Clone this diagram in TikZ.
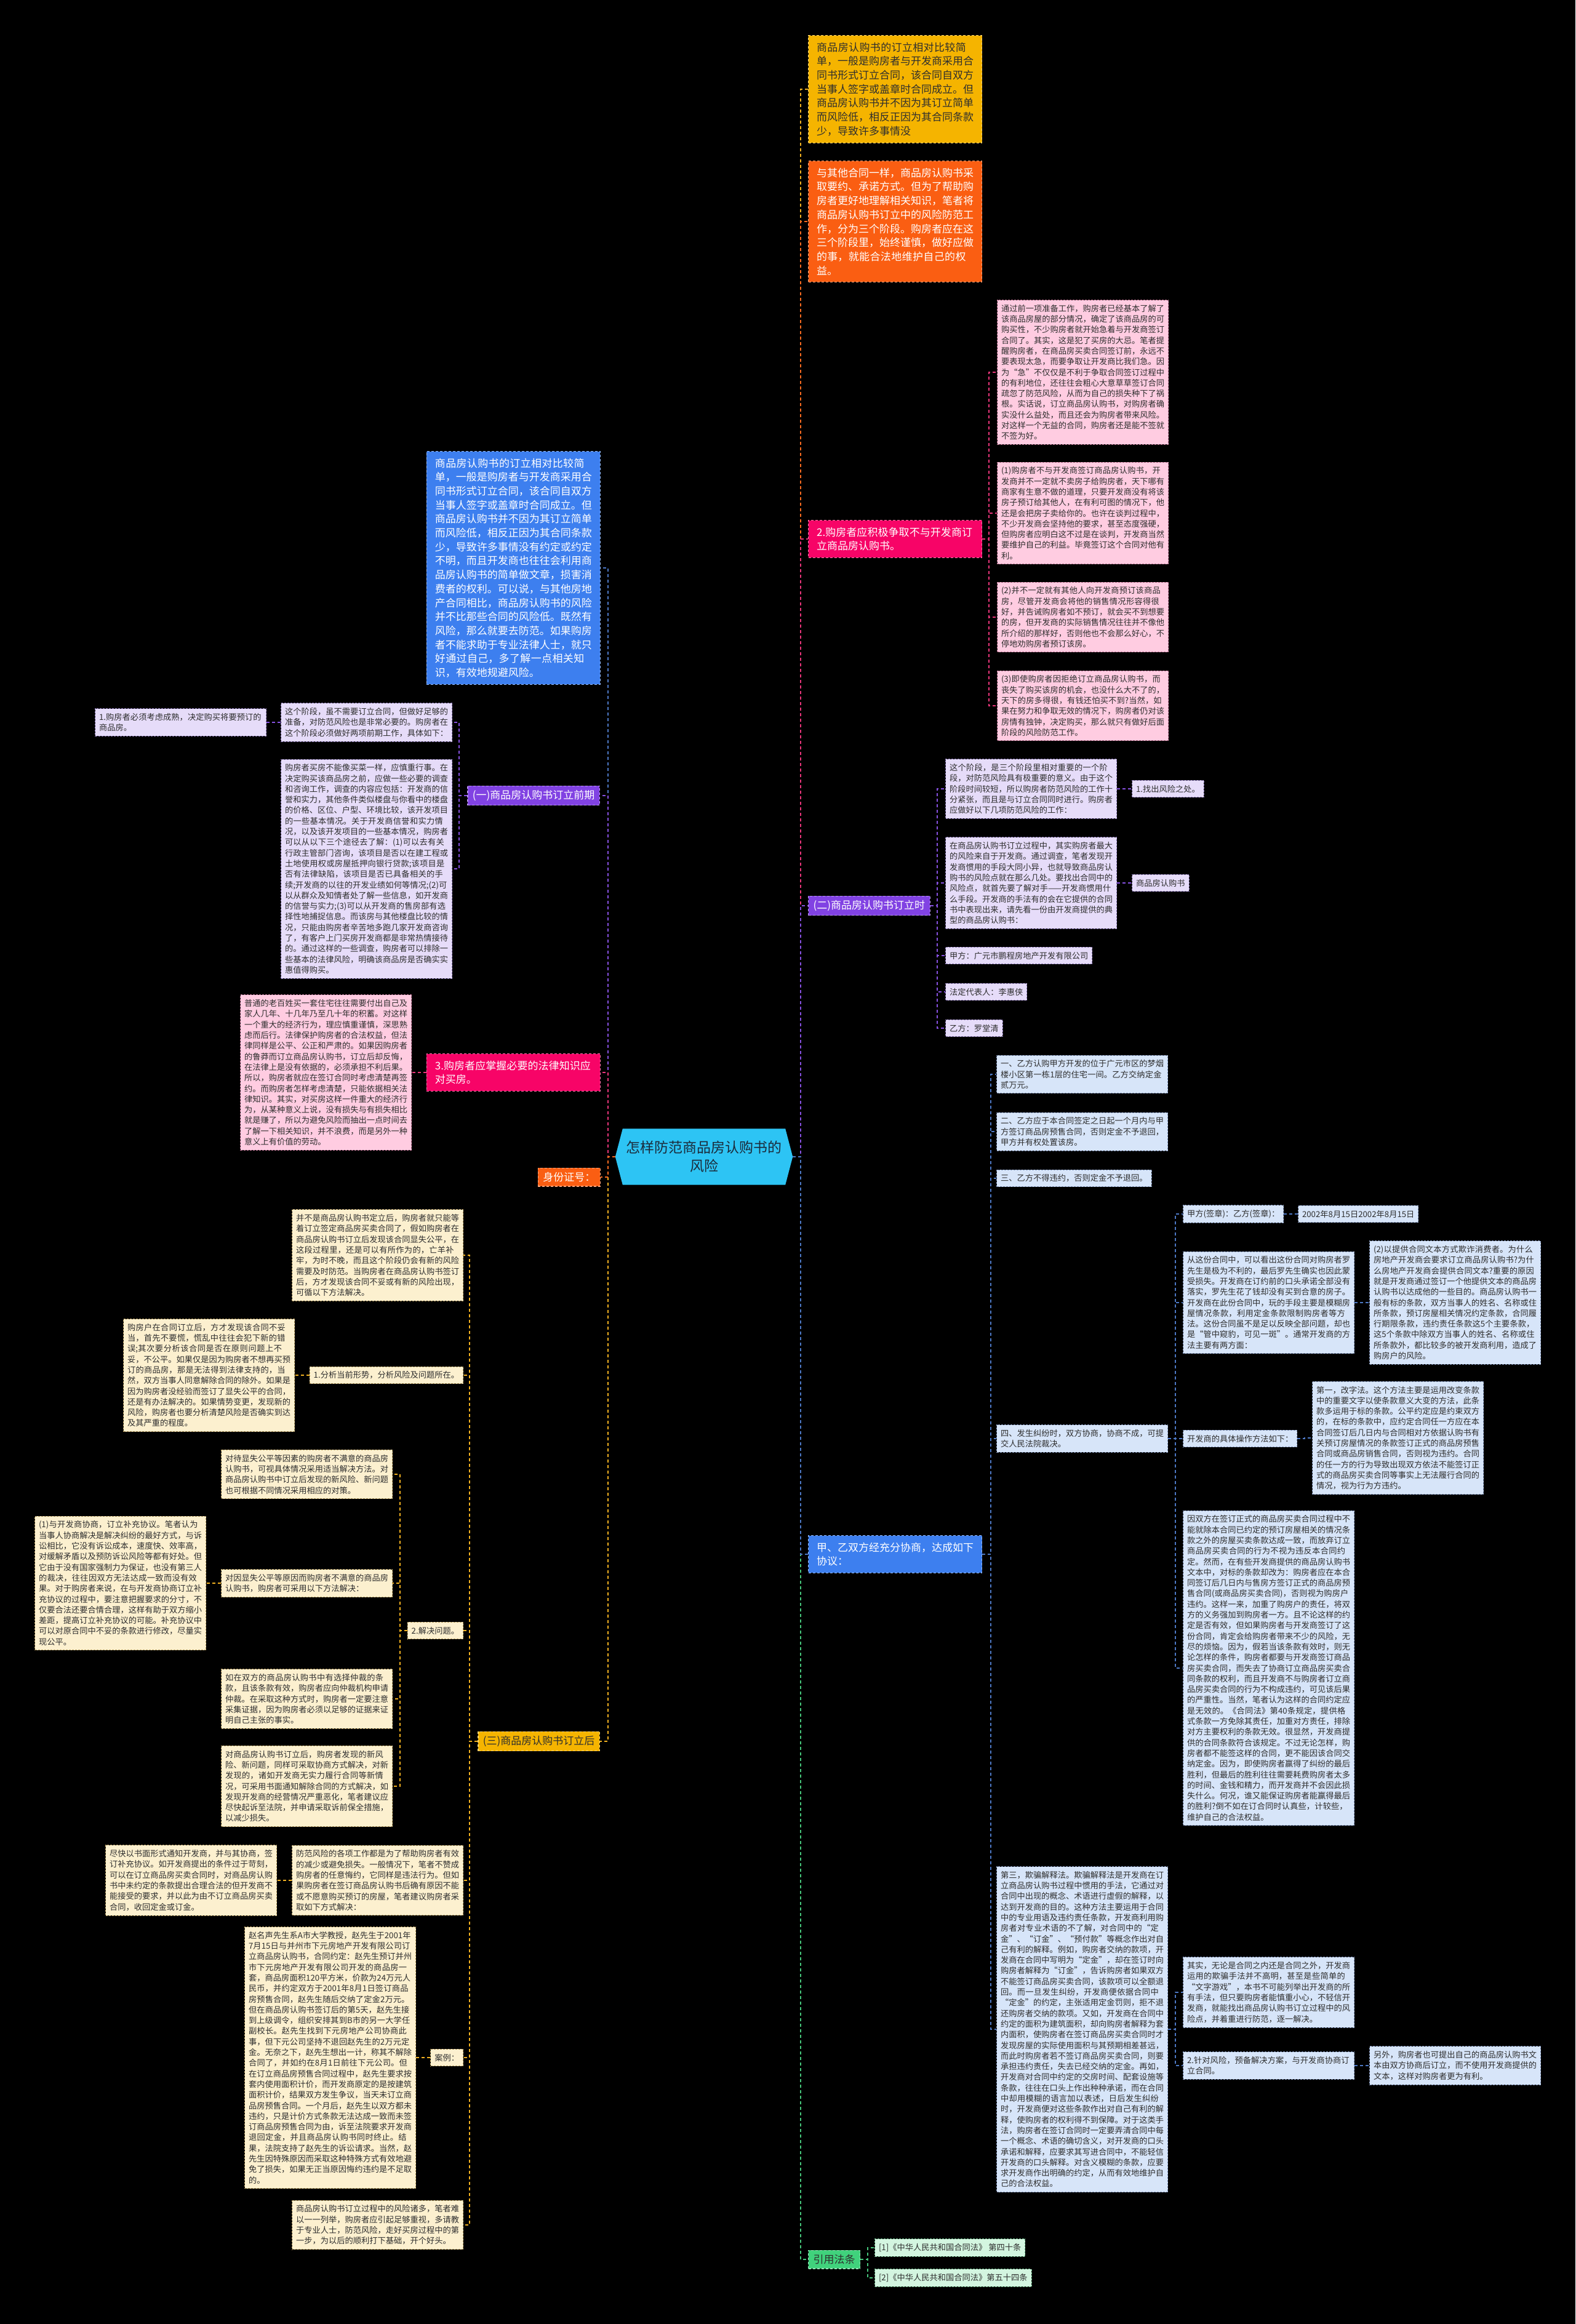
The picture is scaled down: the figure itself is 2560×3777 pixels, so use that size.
\documentclass[tikz,border=0pt]{standalone}
\usepackage{fontspec}
\setmainfont{Noto Sans CJK SC}
\XeTeXlinebreaklocale "zh"
\XeTeXlinebreakskip = 0pt plus 1pt
\pgfdeclarelayer{bgl}
\pgfdeclarelayer{shp}
\pgfsetlayers{bgl,shp,main}
\definecolor{ymain}{HTML}{F5B400}
\definecolor{omain}{HTML}{FA5E12}
\definecolor{pmain}{HTML}{F70467}
\definecolor{vmain}{HTML}{8142E3}
\definecolor{bmain}{HTML}{3D7FEF}
\definecolor{gmain}{HTML}{40D27C}
\definecolor{cyanroot}{HTML}{2DC4F4}
\definecolor{pfill}{HTML}{FFCCE1}
\definecolor{vfill}{HTML}{E6DCF9}
\definecolor{bfill}{HTML}{D7E5F9}
\definecolor{yfill}{HTML}{FCF0CF}
\definecolor{gfill}{HTML}{D3F5E0}
\definecolor{pbd}{HTML}{B8708F}
\definecolor{vbd}{HTML}{8A78B5}
\definecolor{bbd}{HTML}{7C8FB5}
\definecolor{ybd}{HTML}{B39A5E}
\definecolor{gbd}{HTML}{6FB88A}
\definecolor{ycon}{HTML}{F0B020}
\definecolor{ocon}{HTML}{F86A20}
\definecolor{pcon}{HTML}{E8357A}
\definecolor{vcon}{HTML}{8650E0}
\definecolor{bcon}{HTML}{4D78C5}
\definecolor{gcon}{HTML}{45C57A}
\definecolor{txt}{HTML}{2E2E2E}
\definecolor{rtxt}{HTML}{1B2B3B}
\newcommand\lffont{\fontsize{13.25pt}{17.3pt}\selectfont}
\newcommand\mnfont{\fontsize{17pt}{22.7pt}\selectfont}
\newcommand\rtfont{\fontsize{23pt}{30pt}\selectfont}
\tikzset{
  conn/.style={draw=#1, line width=2pt, dash pattern=on 5pt off 4pt},
  lbase/.style={draw=#1, line width=1pt, dash pattern=on 3pt off 2pt, align=left, inner xsep=6.5pt, inner ysep=7.5pt, font=\lffont, text=txt},
  leafw/.style={lbase=#1, text width=265pt},
  pleaf/.style={leafw=pbd, fill=pfill},
  vleaf/.style={leafw=vbd, fill=vfill},
  bleaf/.style={leafw=bbd, fill=bfill},
  yleaf/.style={leafw=ybd, fill=yfill},
  vshort/.style={lbase=vbd, fill=vfill},
  bshort/.style={lbase=bbd, fill=bfill},
  yshort/.style={lbase=ybd, fill=yfill},
  gshort/.style={lbase=gbd, fill=gfill},
  mbase/.style={draw=#1!55!white, fill=#1, line width=1.2pt, dash pattern=on 4pt off 3pt, align=left, inner xsep=13.5pt, inner ysep=11pt, font=\mnfont},
  mainw/.style={mbase=#1, text width=255pt},
  mshort/.style={mbase=#1, inner xsep=8pt, inner ysep=7pt},
  rootn/.style={minimum width=288pt, minimum height=91pt, inner sep=0pt, align=center, font=\rtfont, text=rtxt}
}
\begin{document}
\begin{tikzpicture}[x=1pt,y=-1pt]
\useasboundingbox (0,0) rectangle (2560,3777);
\begin{pgfonlayer}{bgl}
\fill[black] (0,0) rectangle (2560,3777);
\end{pgfonlayer}

% root
\node[rootn] (root) at (1144,1880) {怎样防范商品房认购书的\\风险};
\begin{pgfonlayer}{shp}
\fill[cyanroot] ([xshift=12pt]root.north west) -- ([xshift=-12pt]root.north east) -- (root.east) -- ([xshift=-12pt]root.south east) -- ([xshift=12pt]root.south west) -- (root.west) -- cycle;
\end{pgfonlayer}

% ================= right side =================
\node[mainw=ymain, text=txt, anchor=west] (r1) at (1313,145) {商品房认购书的订立相对比较简单，一般是购房者与开发商采用合同书形式订立合同，该合同自双方当事人签字或盖章时合同成立。但商品房认购书并不因为其订立简单而风险低，相反正因为其合同条款少，导致许多事情没};
\node[mainw=omain, text=white, anchor=west] (r2) at (1313,360) {与其他合同一样，商品房认购书采取要约、承诺方式。但为了帮助购房者更好地理解相关知识，笔者将商品房认购书订立中的风险防范工作，分为三个阶段。购房者应在这三个阶段里，始终谨慎，做好应做的事，就能合法地维护自己的权益。};
\node[mainw=pmain, text=white, anchor=west] (r3) at (1313,876) {2.购房者应积极争取不与开发商订立商品房认购书。};
\node[pleaf, anchor=west] (r3a) at (1620,605) {通过前一项准备工作，购房者已经基本了解了该商品房屋的部分情况，确定了该商品房的可购买性，不少购房者就开始急着与开发商签订合同了。其实，这是犯了买房的大忌。笔者提醒购房者，在商品房买卖合同签订前，永远不要表现太急，而要争取让开发商比我们急。因为“急”不仅仅是不利于争取合同签订过程中的有利地位，还往往会粗心大意草草签订合同疏忽了防范风险，从而为自己的损失种下了祸根。实话说，订立商品房认购书，对购房者确实没什么益处，而且还会为购房者带来风险。对这样一个无益的合同，购房者还是能不签就不签为好。};
\node[pleaf, anchor=west] (r3b) at (1620,834) {(1)购房者不与开发商签订商品房认购书，开发商并不一定就不卖房子给购房者，天下哪有商家有生意不做的道理，只要开发商没有将该房子预订给其他人，在有利可图的情况下，他还是会把房子卖给你的。也许在谈判过程中，不少开发商会坚持他的要求，甚至态度强硬，但购房者应明白这不过是在谈判，开发商当然要维护自己的利益。毕竟签订这个合同对他有利。};
\node[pleaf, anchor=west] (r3c) at (1620,1003) {(2)并不一定就有其他人向开发商预订该商品房，尽管开发商会将他的销售情况形容得很好，并告诫购房者如不预订，就会买不到想要的房，但开发商的实际销售情况往往并不像他所介绍的那样好，否则他也不会那么好心，不停地劝购房者预订该房。};
\node[pleaf, anchor=west] (r3d) at (1620,1147) {(3)即使购房者因拒绝订立商品房认购书，而丧失了购买该房的机会，也没什么大不了的，天下的房多得很，有钱还怕买不到?当然，如果在努力和争取无效的情况下，购房者仍对该房情有独钟，决定购买，那么就只有做好后面阶段的风险防范工作。};

\node[mshort=vmain, text=white, anchor=west] (r4) at (1313,1472) {(二)商品房认购书订立时};
\node[vleaf, anchor=west] (r4a) at (1536,1282) {这个阶段，是三个阶段里相对重要的一个阶段，对防范风险具有极重要的意义。由于这个阶段时间较短，所以购房者防范风险的工作十分紧张，而且是与订立合同同时进行。购房者应做好以下几项防范风险的工作：};
\node[vshort, anchor=west] (r4a1) at (1839,1282) {1.找出风险之处。};
\node[vleaf, anchor=west] (r4b) at (1536,1435) {在商品房认购书订立过程中，其实购房者最大的风险来自于开发商。通过调查，笔者发现开发商惯用的手段大同小异，也就导致商品房认购书的风险点就在那么几处。要找出合同中的风险点，就首先要了解对手——开发商惯用什么手段。开发商的手法有的会在它提供的合同书中表现出来，请先看一份由开发商提供的典型的商品房认购书：};
\node[vshort, anchor=west] (r4b1) at (1839,1435) {商品房认购书};
\node[vshort, anchor=west] (r4c) at (1536,1553) {甲方：广元市鹏程房地产开发有限公司};
\node[vshort, anchor=west] (r4d) at (1536,1612) {法定代表人：李惠侠};
\node[vshort, anchor=west] (r4e) at (1536,1671) {乙方：罗堂清};

\node[mainw=bmain, text=white, anchor=west] (r5) at (1313,2526) {甲、乙双方经充分协商，达成如下协议：};
\node[bleaf, anchor=west] (r5a) at (1619,1746) {一、乙方认购甲方开发的位于广元市区的梦烟楼小区第一栋1层的住宅一间。乙方交纳定金贰万元。};
\node[bleaf, anchor=west] (r5b) at (1619,1839) {二、乙方应于本合同签定之日起一个月内与甲方签订商品房预售合同，否则定金不予退回，甲方并有权处置该房。};
\node[bshort, anchor=west] (r5c) at (1619,1915) {三、乙方不得违约，否则定金不予退回。};
\node[bleaf, anchor=west] (r5d) at (1619,2338) {四、发生纠纷时，双方协商，协商不成，可提交人民法院裁决。};
\node[bshort, anchor=west] (r5d1) at (1922,1973) {甲方(签章)：乙方(签章)：};
\node[bshort, anchor=west] (r5d1a) at (2109,1973) {2002年8月15日2002年8月15日};
\node[bleaf, anchor=west] (r5d2) at (1922,2117) {从这份合同中，可以看出这份合同对购房者罗先生是极为不利的，最后罗先生确实也因此蒙受损失。开发商在订约前的口头承诺全部没有落实，罗先生花了钱却没有买到合意的房子。开发商在此份合同中，玩的手段主要是模糊房屋情况条款，利用定金条款限制购房者等方法。这份合同虽不是足以反映全部问题，却也是“管中窥豹，可见一斑”。通常开发商的方法主要有两方面：};
\node[bleaf, anchor=west] (r5d2a) at (2225,2117) {(2)以提供合同文本方式欺诈消费者。为什么房地产开发商会要求订立商品房认购书?为什么房地产开发商会提供合同文本?重要的原因就是开发商通过签订一个他提供文本的商品房认购书以达成他的一些目的。商品房认购书一般有标的条款，双方当事人的姓名、名称或住所条款，预订房屋相关情况约定条款，合同履行期限条款，违约责任条款这5个主要条款，这5个条款中除双方当事人的姓名、名称或住所条款外，都比较多的被开发商利用，造成了购房户的风险。};
\node[bshort, anchor=west] (r5d3) at (1922,2338) {开发商的具体操作方法如下：};
\node[bleaf, anchor=west] (r5d3a) at (2132,2337) {第一，改字法。这个方法主要是运用改变条款中的重要文字以使条款意义大变的方法，此条款多运用于标的条款。公平约定应是约束双方的，在标的条款中，应约定合同任一方应在本合同签订后几日内与合同相对方依据认购书有关预订房屋情况的条款签订正式的商品房预售合同或商品房销售合同，否则视为违约。合同的任一方的行为导致出现双方依法不能签订正式的商品房买卖合同等事实上无法履行合同的情况，视为行为方违约。};
\node[bleaf, anchor=west] (r5d4) at (1922,2711) {因双方在签订正式的商品房买卖合同过程中不能就除本合同已约定的预订房屋相关的情况条款之外的房屋买卖条款达成一致，而放弃订立商品房买卖合同的行为不视为违反本合同约定。然而，在有些开发商提供的商品房认购书文本中，对标的条款却改为：购房者应在本合同签订后几日内与售房方签订正式的商品房预售合同(或商品房买卖合同)，否则视为购房户违约。这样一来，加重了购房户的责任，将双方的义务强加到购房者一方。且不论这样的约定是否有效，但如果购房者与开发商签订了这份合同，肯定会给购房者带来不少的风险，无尽的烦恼。因为，假若当该条款有效时，则无论怎样的条件，购房者都要与开发商签订商品房买卖合同，而失去了协商订立商品房买卖合同条款的权利，而且开发商不与购房者订立商品房买卖合同的行为不构成违约，可见该后果的严重性。当然，笔者认为这样的合同约定应是无效的。《合同法》第40条规定，提供格式条款一方免除其责任，加重对方责任，排除对方主要权利的条款无效。很显然，开发商提供的合同条款符合该规定。不过无论怎样，购房者都不能签这样的合同，更不能因该合同交纳定金。因为，即使购房者赢得了纠纷的最后胜利，但最后的胜利往往需要耗费购房者太多的时间、金钱和精力，而开发商并不会因此损失什么。何况，谁又能保证购房者能赢得最后的胜利?倒不如在订合同时认真些，计较些，维护自己的合法权益。};
\node[bleaf, anchor=west] (r5e) at (1619,3298) {第三，欺骗解释法。欺骗解释法是开发商在订立商品房认购书过程中惯用的手法，它通过对合同中出现的概念、术语进行虚假的解释，以达到开发商的目的。这种方法主要运用于合同中的专业用语及违约责任条款，开发商利用购房者对专业术语的不了解，对合同中的“定金”、“订金”、“预付款”等概念作出对自己有利的解释。例如，购房者交纳的款项，开发商在合同中写明为“定金”，却在签订时向购房者解释为“订金”，告诉购房者如果双方不能签订商品房买卖合同，该款项可以全额退回。而一旦发生纠纷，开发商便依据合同中“定金”的约定，主张适用定金罚则，拒不退还购房者交纳的款项。又如，开发商在合同中约定的面积为建筑面积，却向购房者解释为套内面积，使购房者在签订商品房买卖合同时才发现房屋的实际使用面积与其预期相差甚远，而此时购房者若不签订商品房买卖合同，则要承担违约责任，失去已经交纳的定金。再如，开发商对合同中约定的交房时间、配套设施等条款，往往在口头上作出种种承诺，而在合同中却用模糊的语言加以表述，日后发生纠纷时，开发商便对这些条款作出对自己有利的解释，使购房者的权利得不到保障。对于这类手法，购房者在签订合同时一定要弄清合同中每一个概念、术语的确切含义，对开发商的口头承诺和解释，应要求其写进合同中，不能轻信开发商的口头解释。对含义模糊的条款，应要求开发商作出明确的约定，从而有效地维护自己的合法权益。};
\node[bleaf, anchor=west] (r5e1) at (1922,3238) {其实，无论是合同之内还是合同之外，开发商运用的欺骗手法并不高明，甚至是些简单的“文字游戏”，本书不可能列举出开发商的所有手法，但只要购房者能慎重小心，不轻信开发商，就能找出商品房认购书订立过程中的风险点，并着重进行防范，逐一解决。};
\node[bleaf, anchor=west] (r5e2) at (1922,3357) {2.针对风险，预备解决方案，与开发商协商订立合同。};
\node[bleaf, anchor=west] (r5e2a) at (2225,3357) {另外，购房者也可提出自己的商品房认购书文本由双方协商后订立，而不使用开发商提供的文本，这样对购房者更为有利。};

\node[mshort=gmain, text=txt, anchor=west] (r6) at (1313,3672) {引用法条};
\node[gshort, anchor=west] (r6a) at (1421,3653) {[1]《中华人民共和国合同法》 第四十条};
\node[gshort, anchor=west] (r6b) at (1421,3702) {[2]《中华人民共和国合同法》第五十四条};

% ================= left side =================
\node[mainw=bmain, text=white, anchor=east] (l1) at (976,923) {商品房认购书的订立相对比较简单，一般是购房者与开发商采用合同书形式订立合同，该合同自双方当事人签字或盖章时合同成立。但商品房认购书并不因为其订立简单而风险低，相反正因为其合同条款少，导致许多事情没有约定或约定不明，而且开发商也往往会利用商品房认购书的简单做文章，损害消费者的权利。可以说，与其他房地产合同相比，商品房认购书的风险并不比那些合同的风险低。既然有风险，那么就要去防范。如果购房者不能求助于专业法律人士，就只好通过自己，多了解一点相关知识，有效地规避风险。};

\node[mshort=vmain, text=white, anchor=east] (l2) at (975,1293) {(一)商品房认购书订立前期};
\node[vleaf, anchor=east] (l2a) at (735,1174) {这个阶段，虽不需要订立合同，但做好足够的准备，对防范风险也是非常必要的。购房者在这个阶段必须做好两项前期工作，具体如下：};
\node[vleaf, anchor=east] (l2a1) at (433,1174) {1.购房者必须考虑成熟，决定购买将要预订的商品房。};
\node[vleaf, anchor=east] (l2b) at (735,1412) {购房者买房不能像买菜一样，应慎重行事。在决定购买该商品房之前，应做一些必要的调查和咨询工作，调查的内容应包括：开发商的信誉和实力，其他条件类似楼盘与你看中的楼盘的价格、区位、户型、环境比较，该开发项目的一些基本情况。关于开发商信誉和实力情况，以及该开发项目的一些基本情况，购房者可以从以下三个途径去了解：(1)可以去有关行政主管部门咨询，该项目是否以在建工程或土地使用权或房屋抵押向银行贷款;该项目是否有法律缺陷，该项目是否已具备相关的手续;开发商的以往的开发业绩如何等情况;(2)可以从群众及知情者处了解一些信息，如开发商的信誉与实力;(3)可以从开发商的售房部有选择性地捕捉信息。而该房与其他楼盘比较的情况，只能由购房者辛苦地多跑几家开发商咨询了，有客户上门买房开发商都是非常热情接待的。通过这样的一些调查，购房者可以排除一些基本的法律风险，明确该商品房是否确实实惠值得购买。};

\node[mainw=pmain, text=white, anchor=east] (l3) at (976,1743) {3.购房者应掌握必要的法律知识应对买房。};
\node[pleaf, anchor=east] (l3a) at (669,1743) {普通的老百姓买一套住宅往往需要付出自己及家人几年、十几年乃至几十年的积蓄。对这样一个重大的经济行为，理应慎重谨慎，深思熟虑而后行。法律保护购房者的合法权益，但法律同样是公平、公正和严肃的。如果因购房者的鲁莽而订立商品房认购书，订立后却反悔，在法律上是没有依据的，必须承担不利后果。所以，购房者就应在签订合同时考虑清楚再签约。而购房者怎样考虑清楚，只能依据相关法律知识。其实，对买房这样一件重大的经济行为，从某种意义上说，没有损失与有损失相比就是赚了，所以为避免风险而抽出一点时间去了解一下相关知识，并不浪费，而是另外一种意义上有价值的劳动。};

\node[mshort=omain, text=white, anchor=east] (l4) at (976,1913) {身份证号：};

\node[mshort=ymain, text=txt, anchor=east] (l5) at (975,2830) {(三)商品房认购书订立后};
\node[yleaf, anchor=east] (l5a) at (753,2040) {并不是商品房认购书定立后，购房者就只能等着订立签定商品房买卖合同了，假如购房者在商品房认购书订立后发现该合同显失公平，在这段过程里，还是可以有所作为的，亡羊补牢，为时不晚，而且这个阶段仍会有新的风险需要及时防范。当购房者在商品房认购书签订后，方才发现该合同不妥或有新的风险出现，可循以下方法解决。};
\node[yshort, anchor=east] (l5b) at (753,2235) {1.分析当前形势，分析风险及问题所在。};
\node[yleaf, anchor=east] (l5b1) at (479,2235) {购房户在合同订立后，方才发现该合同不妥当，首先不要慌，慌乱中往往会犯下新的错误;其次要分析该合同是否在原则问题上不妥，不公平。如果仅是因为购房者不想再买预订的商品房，那是无法得到法律支持的，当然，双方当事人同意解除合同的除外。如果是因为购房者没经验而签订了显失公平的合同，还是有办法解决的。如果情势变更，发现新的风险，购房者也要分析清楚风险是否确实到达及其严重的程度。};
\node[yshort, anchor=east] (l5c) at (753,2650) {2.解决问题。};
\node[yleaf, anchor=east] (l5c1) at (638,2396) {对待显失公平等因素的购房者不满意的商品房认购书，可视具体情况采用适当解决方法。对商品房认购书中订立后发现的新风险、新问题也可根据不同情况采用相应的对策。};
\node[yleaf, anchor=east] (l5c2) at (638,2573) {对因显失公平等原因而购房者不满意的商品房认购书，购房者可采用以下方法解决：};
\node[yleaf, anchor=east] (l5c2a) at (335,2573) {(1)与开发商协商，订立补充协议。笔者认为当事人协商解决是解决纠纷的最好方式，与诉讼相比，它没有诉讼成本，速度快、效率高，对缓解矛盾以及预防诉讼风险等都有好处。但它由于没有国家强制力为保证，也没有第三人的裁决，往往因双方无法达成一致而没有效果。对于购房者来说，在与开发商协商订立补充协议的过程中，要注意把握要求的分寸，不仅要合法还要合情合理，这样有助于双方缩小差距，提高订立补充协议的可能。补充协议中可以对原合同中不妥的条款进行修改，尽量实现公平。};
\node[yleaf, anchor=east] (l5c3) at (638,2761) {如在双方的商品房认购书中有选择仲裁的条款，且该条款有效，购房者应向仲裁机构申请仲裁。在采取这种方式时，购房者一定要注意采集证据，因为购房者必须以足够的证据来证明自己主张的事实。};
\node[yleaf, anchor=east] (l5c4) at (638,2903) {对商品房认购书订立后，购房者发现的新风险、新问题，同样可采取协商方式解决，对新发现的，诸如开发商无实力履行合同等新情况，可采用书面通知解除合同的方式解决，如发现开发商的经营情况严重恶化，笔者建议应尽快起诉至法院，并申请采取诉前保全措施，以减少损失。};
\node[yleaf, anchor=east] (l5d) at (753,3056) {防范风险的各项工作都是为了帮助购房者有效的减少或避免损失。一般情况下，笔者不赞成购房者的任意悔约，它同样是违法行为。但如果购房者在签订商品房认购书后确有原因不能或不愿意购买预订的房屋，笔者建议购房者采取如下方式解决：};
\node[yleaf, anchor=east] (l5d1) at (450,3056) {尽快以书面形式通知开发商，并与其协商，签订补充协议。如开发商提出的条件过于苛刻，可以在订立商品房买卖合同时，对商品房认购书中未约定的条款提出合理合法的但开发商不能接受的要求，并以此为由不订立商品房买卖合同，收回定金或订金。};
\node[yshort, anchor=east] (l5e) at (753,3344) {案例：};
\node[yleaf, anchor=east] (l5e1) at (676,3344) {赵名声先生系A市大学教授，赵先生于2001年7月15日与并州市下元房地产开发有限公司订立商品房认购书，合同约定：赵先生预订并州市下元房地产开发有限公司开发的商品房一套，商品房面积120平方米，价款为24万元人民币，并约定双方于2001年8月1日签订商品房预售合同，赵先生随后交纳了定金2万元。但在商品房认购书签订后的第5天，赵先生接到上级调令，组织安排其到B市的另一大学任副校长。赵先生找到下元房地产公司协商此事，但下元公司坚持不退回赵先生的2万元定金。无奈之下，赵先生想出一计，称其不解除合同了，并如约在8月1日前往下元公司。但在订立商品房预售合同过程中，赵先生要求按套内使用面积计价，而开发商原定的是按建筑面积计价，结果双方发生争议，当天未订立商品房预售合同。一个月后，赵先生以双方都未违约，只是计价方式条款无法达成一致而未签订商品房预售合同为由，诉至法院要求开发商退回定金，并且商品房认购书同时终止。结果，法院支持了赵先生的诉讼请求。当然，赵先生因特殊原因而采取这种特殊方式有效地避免了损失，如果无正当原因悔约违约是不足取的。};
\node[yleaf, anchor=east] (l5f) at (753,3616) {商品房认购书订立过程中的风险诸多，笔者难以一一列举，购房者应引起足够重视，多请教于专业人士，防范风险，走好买房过程中的第一步，为以后的顺利打下基础，开个好头。};

% ================= connectors =================
\draw[conn=ycon] (root.east) -- ++(13,0) |- (r1.west);
\draw[conn=ocon] (root.east) -- ++(13,0) |- (r2.west);
\draw[conn=pcon] (root.east) -- ++(13,0) |- (r3.west);
\draw[conn=vcon] (root.east) -- ++(13,0) |- (r4.west);
\draw[conn=gcon] (root.east) -- ++(13,0) |- (r6.west);
\draw[conn=bcon] (root.east) -- ++(13,0) |- (r5.west);
\draw[conn=bcon] (root.west) -- ++(-12,0) |- (l1.east);
\draw[conn=vcon] (root.west) -- ++(-12,0) |- (l2.east);
\draw[conn=pcon] (root.west) -- ++(-12,0) |- (l3.east);
\draw[conn=ycon] (root.west) -- ++(-12,0) |- (l5.east);
\draw[conn=ocon] (root.west) -- ++(-12,0) |- (l4.east);
\foreach \c in {r3a,r3b,r3c,r3d}{\draw[conn=pcon] (r3.east) -- ++(11,0) |- (\c.west);}
\foreach \c in {r4a,r4b,r4c,r4d,r4e}{\draw[conn=vcon] (r4.east) -- ++(11,0) |- (\c.west);}
\draw[conn=vcon] (r4a.east) -- (r4a1.west);
\draw[conn=vcon] (r4b.east) -- (r4b1.west);
\foreach \c in {r5a,r5b,r5c,r5d,r5e}{\draw[conn=bcon] (r5.east) -- ++(14,0) |- (\c.west);}
\foreach \c in {r5d1,r5d2,r5d3,r5d4}{\draw[conn=bcon] (r5d.east) -- ++(12,0) |- (\c.west);}
\draw[conn=bcon] (r5d1.east) -- (r5d1a.west);
\draw[conn=bcon] (r5d2.east) -- (r5d2a.west);
\draw[conn=bcon] (r5d3.east) -- ++(12,0) |- (r5d3a.west);
\foreach \c in {r5e1,r5e2}{\draw[conn=bcon] (r5e.east) -- ++(12,0) |- (\c.west);}
\draw[conn=bcon] (r5e2.east) -- (r5e2a.west);
\foreach \c in {r6a,r6b}{\draw[conn=gcon] (r6.east) -- ++(12,0) |- (\c.west);}
\foreach \c in {l2a,l2b}{\draw[conn=vcon] (l2.west) -- ++(-13,0) |- (\c.east);}
\draw[conn=vcon] (l2a.west) -- (l2a1.east);
\draw[conn=pcon] (l3.west) -- (l3a.east);
\foreach \c in {l5a,l5b,l5c,l5d,l5e,l5f}{\draw[conn=ycon] (l5.west) -- ++(-13,0) |- (\c.east);}
\draw[conn=ycon] (l5b.west) -- (l5b1.east);
\foreach \c in {l5c1,l5c2,l5c3,l5c4}{\draw[conn=ycon] (l5c.west) -- ++(-12,0) |- (\c.east);}
\draw[conn=ycon] (l5c2.west) -- (l5c2a.east);
\draw[conn=ycon] (l5d.west) -- (l5d1.east);
\draw[conn=ycon] (l5e.west) -- (l5e1.east);
\end{tikzpicture}
\end{document}
